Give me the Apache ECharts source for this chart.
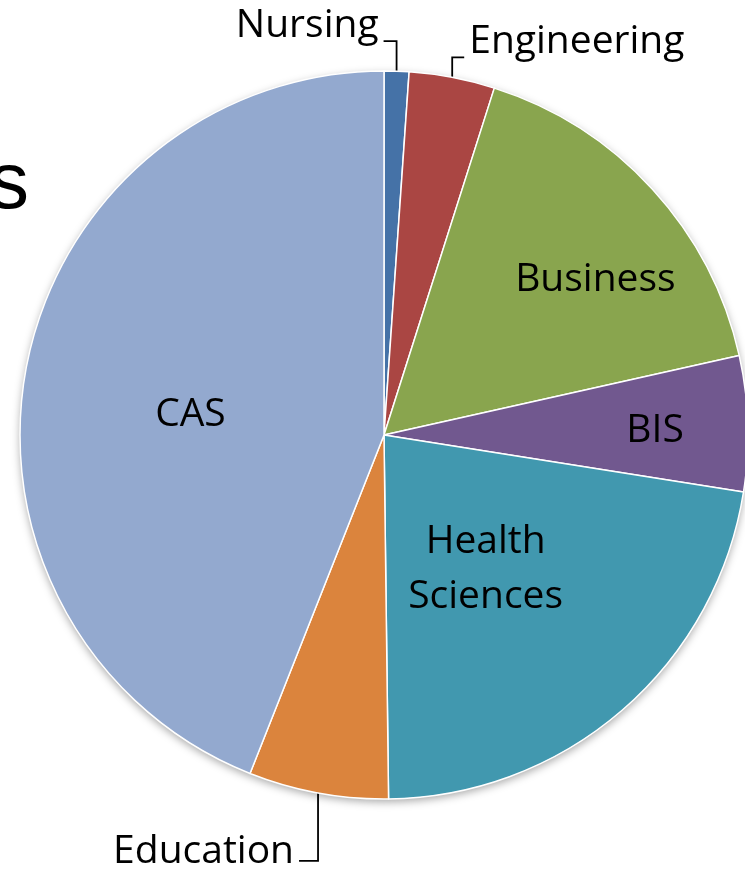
<!DOCTYPE html>
<html>
<head>
<meta charset="utf-8">
<script src="https://cdn.jsdelivr.net/npm/echarts@6/dist/echarts.min.js"></script>
<style>
html, body { margin: 0; padding: 0; background: #fff; }
#main { width: 745px; height: 871px; }
</style>
</head>
<body>
<div id="main"></div>
<script>
const categories = ['Nursing', 'Engineering', 'Business', 'BIS', 'Health Sciences', 'Education', 'CAS']
const shares = [1.1, 3.8, 16.6, 6.0, 22.3, 6.2, 44.0]
const colors = ['#4572A7', '#AA4643', '#89A54E', '#71588F', '#4198AF', '#DB843D', '#93A9CF']
const outsideNames = ['Nursing', 'Engineering', 'Education']

const cx = 384
const cy = 435
const radius = 364
const fontSize = 39
// canvas 'middle' sits a little high for this font
const textDy = 4

// inside labels: [fraction of radius, angle shift from slice middle]
const insideSpots = {
  Business: [0.727, 5.5],
  BIS: [0.745, 0],
  'Health Sciences': [0.454, 2.9],
  CAS: [0.536, -3.6]
}
// outside labels: [vertical leg, horizontal leg, baseline shift]
const leaders = {
  Nursing: [-30, -13, -4],
  Engineering: [-20, 12, -4],
  Education: [68, -19, 2]
}

const total = shares.reduce((a, b) => a + b, 0)
const midAngles = []
let acc = 0
shares.forEach(v => {
  midAngles.push((acc + v / 2) / total * 360)
  acc += v
})
const polar = (deg, rr) => [
  cx + rr * Math.sin(deg * Math.PI / 180),
  cy - rr * Math.cos(deg * Math.PI / 180)
]

const chart = echarts.init(document.getElementById('main'))

const pieData = categories.map((name, i) => {
  const item = { name, value: shares[i], itemStyle: { color: colors[i] } }
  if (outsideNames.includes(name)) {
    item.label = { position: 'outside' }
    item.labelLine = { show: true }
  }
  return item
})

const labelLayout = params => {
  const i = params.dataIndex
  const name = categories[i]
  if (insideSpots[name]) {
    const [f, shift] = insideSpots[name]
    const [x, y] = polar(midAngles[i] + shift, f * radius)
    return { x, y: y + textDy, align: 'center', verticalAlign: 'middle' }
  }
  const [rise, run, base] = leaders[name]
  const p0 = polar(midAngles[i], radius)
  const p1 = [p0[0], p0[1] + rise]
  const p2 = [p1[0] + run, p1[1]]
  const gap = 5
  return {
    x: p2[0] + (run < 0 ? -gap : gap),
    y: p2[1] + base - 0.388 * fontSize + textDy,
    align: run < 0 ? 'right' : 'left',
    verticalAlign: 'middle',
    labelLinePoints: [p0, p1, p2]
  }
}

const option = {
  animation: false,
  title: {
    text: 's',
    left: -16,
    top: 141,
    textStyle: {
      fontFamily: 'Liberation Sans',
      fontSize: 80,
      fontWeight: 'normal',
      color: '#000'
    }
  },
  series: [
    {
      type: 'pie',
      silent: true,
      center: [cx, cy],
      radius: radius,
      label: { show: false },
      labelLine: { show: false },
      itemStyle: {
        color: '#fff',
        shadowBlur: 8,
        shadowOffsetY: 3,
        shadowColor: 'rgba(0,0,0,0.35)'
      },
      data: [{ value: 1, name: '' }]
    },
    {
      type: 'pie',
      center: [cx, cy],
      radius: radius,
      startAngle: 90,
      clockwise: true,
      avoidLabelOverlap: false,
      itemStyle: {
        borderColor: '#fff',
        borderWidth: 1.5
      },
      label: {
        show: true,
        position: 'inside',
        color: '#000',
        fontFamily: 'Open Sans',
        fontSize: fontSize,
        lineHeight: 55,
        formatter: p => p.name.replace(' ', '\n')
      },
      labelLine: {
        show: false,
        length: 10,
        length2: 10,
        lineStyle: { color: '#000', width: 1.8 }
      },
      labelLayout: labelLayout,
      data: pieData
    }
  ]
}

chart.setOption(option)
window.addEventListener('resize', () => chart.resize())
</script>
</body>
</html>
